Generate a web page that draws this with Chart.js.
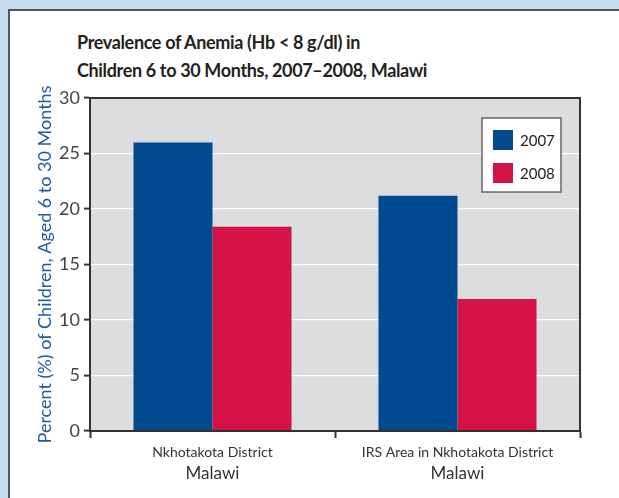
<!DOCTYPE html>
<html>
<head>
<meta charset="utf-8">
<script src="https://cdn.jsdelivr.net/npm/chart.js@4.4.1/dist/chart.umd.min.js"></script>
<style>
  html,body{margin:0;padding:0;background:#c6dcf1;width:619px;height:498px;overflow:hidden}
  #card{position:absolute;left:8px;top:9px;width:640px;height:520px;background:#fff;border-top:2px solid #555;border-left:2px solid #555;box-sizing:border-box}
  #titre{position:absolute;left:77px;top:28px;font:bold 18px Lato,"Open Sans",sans-serif;line-height:28px;color:#231f20;letter-spacing:-0.35px}
  #graphe{position:absolute;left:8px;top:10px}
</style>
</head>
<body>
<div id="card"></div>
<div id="titre">Prevalence of Anemia (Hb &lt; 8 g/dl) in<br>Children 6 to 30 Months, 2007–2008, Malawi</div>
<canvas id="graphe" width="611" height="488"></canvas>
<script>
const 类别 = ['Nkhotakota District', 'IRS Area in Nkhotakota District']
const 地区 = ['Malawi', 'Malawi']
const 年份 = ['2007', '2008']
const 值2007 = [26.0, 21.2]
const 值2008 = [18.4, 11.9]
const 颜色 = ['#004a8f', '#d41245']
const y刻度 = [0, 5, 10, 15, 20, 25, 30]
const y标题 = 'Percent (%) of Children, Aged 6 to 30 Months'

const 字 = 'Lato, "Open Sans", sans-serif'

// grey plot background + frame
const 背景 = {
  id:'背景',
  beforeDraw(c){
    const a = c.chartArea, ctx = c.ctx
    ctx.save()
    ctx.fillStyle = '#dcdddf'
    ctx.fillRect(a.left, a.top, a.right-a.left, a.bottom-a.top)
    ctx.restore()
  },
  afterDraw(c){
    const a = c.chartArea, ctx = c.ctx
    ctx.save()
    ctx.strokeStyle = '#333'
    ctx.lineWidth = 2
    ctx.strokeRect(a.left, a.top, a.right-a.left, a.bottom-a.top)
    ctx.restore()
  }
}

// boxed legend inside the plot, top right
const 图例 = {
  id:'图例',
  afterDraw(c){
    const a = c.chartArea, ctx = c.ctx
    const x = a.right - 98, y = a.top + 20, w = 79, h = 74
    ctx.save()
    ctx.fillStyle = '#fff'
    ctx.fillRect(x, y, w, h)
    ctx.strokeStyle = '#666'
    ctx.lineWidth = 1.5
    ctx.strokeRect(x, y, w, h)
    ctx.font = '15px ' + 字
    ctx.textBaseline = 'middle'
    c.data.datasets.forEach((d,i)=>{
      const sy = y + 12 + i*33
      ctx.fillStyle = d.backgroundColor
      ctx.fillRect(x + 11, sy, 20, 20)
      ctx.fillStyle = '#222'
      ctx.fillText(d.label, x + 38, sy + 11)
    })
    ctx.restore()
  }
}

new Chart(document.getElementById('graphe'), {
  type:'bar',
  data:{
    labels:类别,
    datasets:[
      {label:年份[0], data:值2007, backgroundColor:颜色[0], xAxisID:'x'},
      {label:年份[1], data:值2008, backgroundColor:颜色[1], xAxisID:'x'}
    ]
  },
  options:{
    responsive:false,
    devicePixelRatio:1,
    animation:false,
    datasets:{bar:{barPercentage:1, categoryPercentage:0.645, borderWidth:0}},
    layout:{padding:{top:88, right:39, left:0, bottom:0}},
    plugins:{legend:{display:false}, tooltip:{enabled:false}, title:{display:false}},
    scales:{
      y:{
        min:0, max:30,
        afterFit(s){ s.width = 82 },
        afterBuildTicks(s){ s.ticks = y刻度.map(v=>({value:v})) },
        grid:{color:'#ffffff', lineWidth:1.2, tickColor:'#333', tickWidth:2, tickLength:6, drawTicks:true},
        border:{display:true, color:'#333', width:2},
        ticks:{color:'#444', padding:4, font:{family:字, size:18}},
        title:{display:true, text:y标题, color:'#1d5c9e', font:{family:字, size:18}, padding:{top:26, bottom:0}}
      },
      x:{
        position:'bottom',
        afterFit(s){ s.height = 30 },
        grid:{offset:true, drawOnChartArea:false, tickColor:'#333', tickWidth:2, tickLength:7},
        border:{display:true, color:'#333', width:2},
        ticks:{color:'#333', padding:6, maxRotation:0, autoSkip:false, font:{family:字, size:14}}
      },
      地:{
        type:'category',
        labels:地区,
        position:'bottom',
        weight:1,
        afterFit(s){ s.height = 37 },
        grid:{display:false, drawTicks:false},
        border:{display:false},
        ticks:{color:'#333', padding:2, maxRotation:0, autoSkip:false, font:{family:字, size:17}}
      }
    }
  },
  plugins:[背景, 图例]
})
</script>
</body>
</html>
